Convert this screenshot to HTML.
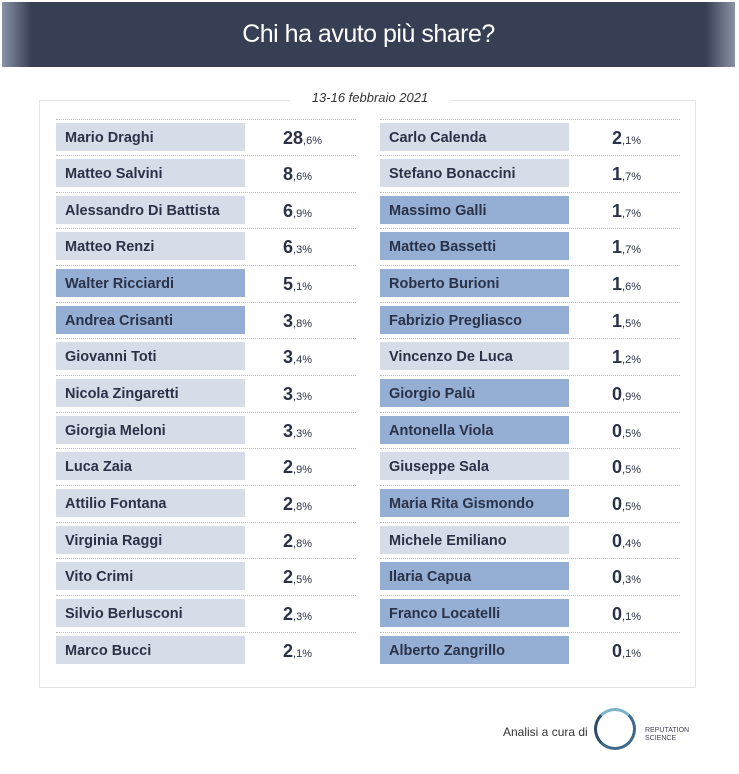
<!DOCTYPE html>
<html><head><meta charset="utf-8"><style>
body{margin:0;width:739px;height:774px;background:#fff;position:relative;font-family:"Liberation Sans",sans-serif;overflow:hidden}
.hdr{position:absolute;left:2px;top:2px;width:733px;height:65px;background:linear-gradient(90deg,#8a93a6 0,#363f54 4%,#363f54 96%,#8a93a6 100%);color:#fff;font-size:25px;text-align:center;line-height:64px;letter-spacing:-0.5px}
.panel{position:absolute;left:39px;top:100px;width:657px;height:588px;border:1px solid #e2e4e8;box-sizing:border-box}
.date{position:absolute;left:290px;top:89px;width:160px;text-align:center;background:#fff;font-style:italic;font-size:13px;color:#333;line-height:18px}
.box{position:absolute;height:28px;width:189px;background:#d6dde8;color:#2b3247;font-weight:bold;font-size:14.5px;line-height:30px;padding-left:9px;box-sizing:border-box}
.box.d{background:#94aed4}
.val{position:absolute;font-size:18px;color:#2b3247;font-weight:bold;line-height:30px}
.val small{font-size:11px;font-weight:normal}
.dot{position:absolute;height:0;border-top:1px dotted #bbb}
.foot{position:absolute;left:503px;top:725px;font-size:12px;color:#333}
.ring{position:absolute;left:594px;top:708px;width:42px;height:42px;border-radius:50%;border:3px solid #3d6a8a;border-left-color:#2e4a6e;border-top-color:#7fb3c8;box-sizing:border-box}
.rs{position:absolute;left:645px;top:727px;font-size:7px;line-height:8px;color:#445}
</style></head><body>
<div class="hdr">Chi ha avuto più share?</div>
<div class="panel"></div>
<div class="date">13-16 febbraio 2021</div>
<div id="rows"></div>
<div class="foot">Analisi a cura di</div>
<div class="ring"></div>
<div class="rs">REPUTATION<br>SCIENCE</div>
<script>
var L=[["Mario Draghi","28","6",0],["Matteo Salvini","8","6",0],["Alessandro Di Battista","6","9",0],["Matteo Renzi","6","3",0],["Walter Ricciardi","5","1",1],["Andrea Crisanti","3","8",1],["Giovanni Toti","3","4",0],["Nicola Zingaretti","3","3",0],["Giorgia Meloni","3","3",0],["Luca Zaia","2","9",0],["Attilio Fontana","2","8",0],["Virginia Raggi","2","8",0],["Vito Crimi","2","5",0],["Silvio Berlusconi","2","3",0],["Marco Bucci","2","1",0]];
var R=[["Carlo Calenda","2","1",0],["Stefano Bonaccini","1","7",0],["Massimo Galli","1","7",1],["Matteo Bassetti","1","7",1],["Roberto Burioni","1","6",1],["Fabrizio Pregliasco","1","5",1],["Vincenzo De Luca","1","2",0],["Giorgio Palù","0","9",1],["Antonella Viola","0","5",1],["Giuseppe Sala","0","5",0],["Maria Rita Gismondo","0","5",1],["Michele Emiliano","0","4",0],["Ilaria Capua","0","3",1],["Franco Locatelli","0","1",1],["Alberto Zangrillo","0","1",1]];
var h="";
function col(a,bx,vx,dx,dw){a.forEach(function(r,i){var t=122.5+i*36.65;
h+='<div class="dot" style="left:'+dx+'px;width:'+dw+'px;top:'+(t-4)+'px"></div>';
h+='<div class="box'+(r[3]?' d':'')+'" style="left:'+bx+'px;top:'+t+'px">'+r[0]+'</div>';
h+='<div class="val" style="left:'+vx+'px;top:'+t+'px">'+r[1]+'<small>,'+r[2]+'%</small></div>';});}
col(L,56,283,56,300);col(R,380,612,380,300);
document.getElementById("rows").innerHTML=h;
</script>
</body></html>
